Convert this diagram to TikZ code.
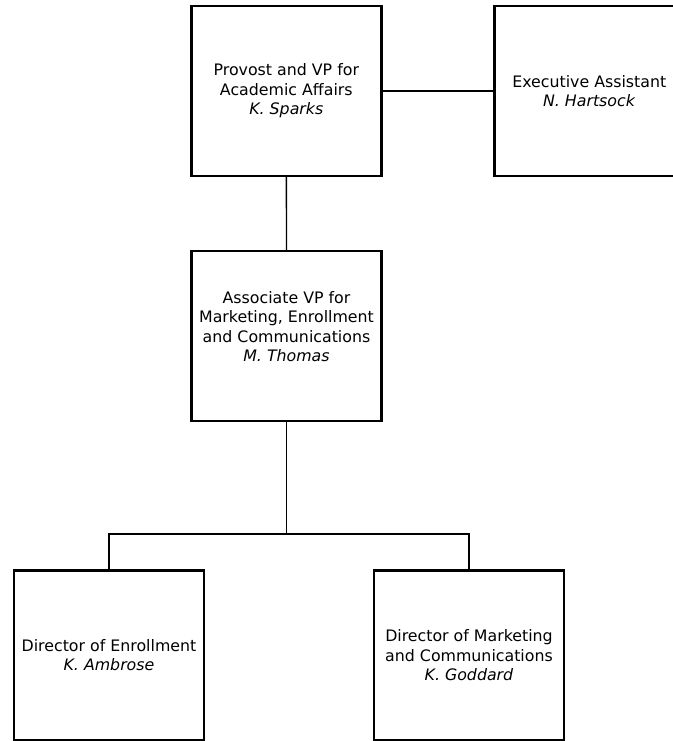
\documentclass[tikz,border=0pt]{standalone}
\usepackage{fontspec}
\setmainfont{DejaVu Sans}
\usetikzlibrary{positioning}

\begin{document}
\begin{tikzpicture}[x=1pt, y=-1pt,
    X/.style = {rectangle, draw, line width=2.5pt,% boxes of the chart
                minimum width=190pt, minimum height=170pt,
                inner sep=0pt, outer sep=0pt, align=center,
                font=\fontsize{15.8}{19.5}\selectfont},
    L/.style = {line width=1.3pt},% connectors
                        ]
\useasboundingbox (0,0) rectangle (672,741);
\node[X] (prov)  at (286.3,91)  {Provost and VP for\\Academic Affairs\\\textit{K. Sparks}};
\node[X] (exec)  at (589.3,91)  {Executive Assistant\\\textit{N. Hartsock}};
\node[X] (assoc) at (286.5,336) {Associate VP for\\Marketing, Enrollment\\and Communications\\\textit{M. Thomas}\\\mbox{}};
\node[X] (enrl)  at (109,655.3) {Director of Enrollment\\\textit{K. Ambrose}};
\node[X] (mktg)  at (469,655.3) {Director of Marketing\\and Communications\\\textit{K. Goddard}};
\draw[L] (prov) -- (exec);
\draw[L] (prov) -- (assoc);
\draw[L] (assoc.south) -- ++(0,113) coordinate (j);
\draw[L] (enrl.north) |- (j) -| (mktg.north);
\end{tikzpicture}
\end{document}
